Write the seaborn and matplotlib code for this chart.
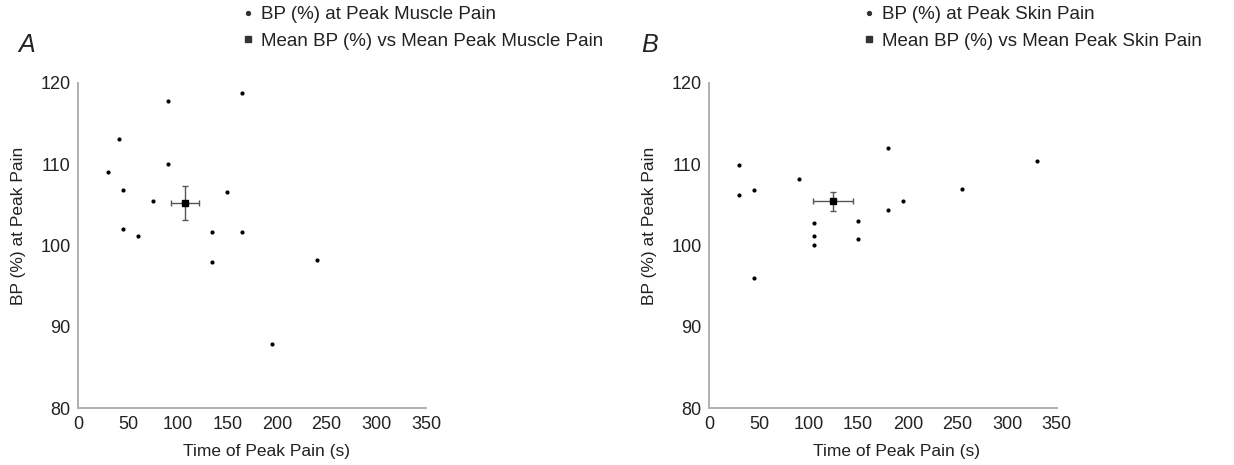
import matplotlib
matplotlib.use("Agg")
import matplotlib.pyplot as plt
from matplotlib.lines import Line2D
import seaborn as sns
import pandas as pd

# ---------------- data ----------------
muscle_time = [30, 41, 45, 45, 60, 75, 90, 90, 135, 135, 150, 165, 165, 195, 240]
muscle_bp = [109.0, 113.1, 106.8, 102.0, 101.2, 105.5, 117.7, 110.0, 101.6, 97.9,
             106.6, 118.7, 101.6, 87.9, 98.2]
muscle_mean_time = 107.4
muscle_mean_bp = 105.2
muscle_time_err = 14.0
muscle_bp_err = 2.1

skin_time = [30, 30, 45, 45, 90, 105, 105, 105, 150, 150, 180, 180, 195, 255, 330]
skin_bp = [109.9, 106.2, 106.8, 96.0, 108.2, 102.8, 101.1, 100.0, 103.0, 100.8,
           112.0, 104.3, 105.4, 106.9, 110.4]
skin_mean_time = 124.6
skin_mean_bp = 105.4
skin_time_err = 20.0
skin_bp_err = 1.2

x_ticks = [0, 50, 100, 150, 200, 250, 300, 350]
y_ticks = [80, 90, 100, 110, 120]
x_label = "Time of Peak Pain (s)"
y_label = "BP (%) at Peak Pain"
panel_letters = ["A", "B"]
legend_point = ["BP (%) at Peak Muscle Pain", "BP (%) at Peak Skin Pain"]
legend_mean = ["Mean BP (%) vs Mean Peak Muscle Pain", "Mean BP (%) vs Mean Peak Skin Pain"]

# ---------------- style ----------------
sns.set_theme(style="white")
plt.rcParams["font.family"] = ["Liberation Sans", "DejaVu Sans"]
TEXT = "#222222"
AXC = "#b0b0b0"

W, H = 1234, 465
fig = plt.figure(figsize=(W / 100, H / 100), dpi=100)
fig.patch.set_facecolor("white")

def px_axes(left, right, top, bottom):
    return fig.add_axes([left / W, 1 - bottom / H, (right - left) / W, (bottom - top) / H])

axA = px_axes(78.3, 426.0, 82.7, 408.0)
axB = px_axes(709.3, 1056.7, 82.7, 408.0)

panels = [
    (axA, muscle_time, muscle_bp, muscle_mean_time, muscle_mean_bp, muscle_time_err, muscle_bp_err),
    (axB, skin_time, skin_bp, skin_mean_time, skin_mean_bp, skin_time_err, skin_bp_err),
]

legend_x = [243, 864]
letter_x = [18, 641]

for i, (ax, t, bp, mt, mb, te, be) in enumerate(panels):
    df = pd.DataFrame({"time": t, "bp": bp})
    sns.scatterplot(data=df, x="time", y="bp", ax=ax, color="black", s=9,
                    linewidth=0, marker="o", zorder=3, legend=False)
    ax.errorbar([mt], [mb], xerr=[te], yerr=[be], fmt="s", color="black",
                ms=4.5, ecolor="#555555", elinewidth=1.0, capsize=2.5,
                capthick=1.0, zorder=4)
    ax.set_xlim(0, 350)
    ax.set_ylim(80, 120)
    ax.set_xticks(x_ticks)
    ax.set_yticks(y_ticks)
    for s in ["top", "right"]:
        ax.spines[s].set_visible(False)
    for s in ["left", "bottom"]:
        ax.spines[s].set_color(AXC)
        ax.spines[s].set_linewidth(1.4)
    ax.tick_params(axis="both", which="both", direction="inout", length=5,
                   width=1.0, color=AXC, labelsize=13, labelcolor=TEXT, pad=3)
    ax.set_xlabel(x_label, fontsize=12.5, color=TEXT)
    ax.set_ylabel(y_label, fontsize=12.5, color=TEXT)
    ax.xaxis.set_label_coords(0.54, -0.112)
    ax.yaxis.set_label_coords(-0.15, 0.56)
    ax.set_facecolor("white")

    handles = [
        Line2D([], [], linestyle="none", marker="o", ms=2.8, color="#333333"),
        Line2D([], [], linestyle="none", marker="s", ms=4.2, color="#333333"),
    ]
    fig.legend(handles, [legend_point[i], legend_mean[i]], loc="upper left",
               bbox_to_anchor=(legend_x[i] / W, 1 - 6 / H), frameon=False,
               fontsize=13.5, handlelength=0.5, handletextpad=0.45,
               labelspacing=0.5, borderpad=0, borderaxespad=0,
               labelcolor=TEXT)
    fig.text(letter_x[i] / W, 1 - 52 / H, panel_letters[i], fontsize=18,
             style="italic", color=TEXT, va="baseline", ha="left")

fig.savefig("out.png", dpi=100, facecolor="white")
